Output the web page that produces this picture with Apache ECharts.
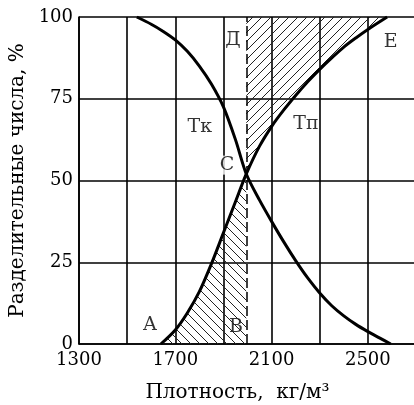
<!DOCTYPE html>
<html>
<head>
<meta charset="utf-8">
<script src="https://cdn.jsdelivr.net/npm/echarts@6/dist/echarts.min.js"></script>
<style>
  html, body { margin: 0; padding: 0; background: #fff; }
  #main { width: 414px; height: 405px; }
</style>
</head>
<body>
<div id="main"></div>
<script>
// Тк curve (separation number vs density)
var tkDensity = [1540, 1600, 1650, 1700, 1750, 1800, 1850, 1900, 1950, 1995, 2050, 2100, 2150, 2200, 2250, 2300, 2350, 2400, 2450, 2500, 2550, 2595];
var tkValue   = [100, 97.8, 95.6, 93, 89.5, 85, 79.5, 72.5, 62.5, 52, 44, 37.5, 31.3, 25.5, 20.2, 15.6, 11.7, 8.6, 6, 3.8, 1.8, 0];

// Тп curve
var tpDensity = [1640, 1700, 1750, 1800, 1850, 1900, 1950, 1995, 2050, 2100, 2150, 2200, 2250, 2300, 2350, 2400, 2450, 2500, 2580];
var tpValue   = [0, 4.3, 9.5, 16, 24.5, 34, 43.5, 52, 60.5, 66.5, 71.5, 76, 80.2, 84, 87.5, 90.8, 93.6, 96.2, 100];

// boundary density (dashed line Д-В)
var cutDensity = 1995;

var yTicks = [0, 25, 50, 75, 100];
var xTickLabels = [1300, 1700, 2100, 2500];

// point labels
var labelNames   = ['Тк', 'Тп', 'С', 'Д', 'Е', 'А', 'В'];
var labelDensity = [1802, 2243, 1915, 1940, 2595, 1595, 1952];
var labelValue   = [66.4, 67.3, 54.7, 93, 92.4, 5.8, 5.2];

function zip(xs, ys) {
  return xs.map(function (x, i) { return [x, ys[i]]; });
}

function hatch(dir) {
  var s = 9;
  var c = document.createElement('canvas');
  c.width = s; c.height = s;
  var ctx = c.getContext('2d');
  ctx.strokeStyle = '#222';
  ctx.lineWidth = 1;
  ctx.beginPath();
  if (dir === '/') {
    ctx.moveTo(-1, s + 1); ctx.lineTo(s + 1, -1);
    ctx.moveTo(-1, 1); ctx.lineTo(1, -1);
    ctx.moveTo(s - 1, s + 1); ctx.lineTo(s + 1, s - 1);
  } else {
    ctx.moveTo(-1, -1); ctx.lineTo(s + 1, s + 1);
    ctx.moveTo(-1, s - 1); ctx.lineTo(1, s + 1);
    ctx.moveTo(s - 1, -1); ctx.lineTo(s + 1, 1);
  }
  ctx.stroke();
  return c;
}

var tk = zip(tkDensity, tkValue);
var tp = zip(tpDensity, tpValue);
var tpLeft = tp.filter(function (p) { return p[0] <= cutDensity; });
var tpRight = tp.filter(function (p) { return p[0] >= cutDensity; });

var font = 'DejaVu Serif';
var chart = echarts.init(document.getElementById('main'));
var option = {
  animation: false,
  grid: { left: 79, top: 17, right: -2, bottom: 61, containLabel: false, outerBoundsMode: 'none' },
  xAxis: {
    type: 'value',
    min: 1300,
    max: 2700,
    interval: 200,
    name: 'Плотность,  кг/м³',
    nameLocation: 'middle',
    nameGap: 39,
    nameTextStyle: { fontFamily: font, fontSize: 20, color: '#000', padding: [0, 20, 0, 0] },
    axisLine: { show: true, lineStyle: { color: '#000', width: 1.6 } },
    axisTick: { show: false },
    axisLabel: {
      margin: 7,
      fontFamily: font,
      fontSize: 18,
      color: '#000',
      formatter: function (v) { return xTickLabels.indexOf(v) >= 0 ? String(v) : ''; }
    },
    splitLine: { show: true, lineStyle: { color: '#000', width: 1.6 } }
  },
  yAxis: {
    type: 'value',
    min: 0,
    max: 100,
    interval: 25,
    name: 'Разделительные числа, %',
    nameLocation: 'middle',
    nameRotate: 90,
    nameGap: 46,
    nameTextStyle: { fontFamily: font, fontSize: 20, color: '#000' },
    axisLine: { show: true, lineStyle: { color: '#000', width: 1.6 } },
    axisTick: { show: false },
    axisLabel: {
      margin: 6,
      fontFamily: font,
      fontSize: 18,
      color: '#000',
      formatter: function (v) { return yTicks.indexOf(v) >= 0 ? String(v) : ''; }
    },
    splitLine: { show: true, lineStyle: { color: '#000', width: 1.6 } }
  },
  series: [
    {
      type: 'line',
      data: tpLeft,
      symbol: 'none',
      smooth: 0.3,
      lineStyle: { width: 0 },
      areaStyle: { origin: 'start', opacity: 1, color: { image: hatch('\\'), repeat: 'repeat' } },
      markLine: {
        silent: true,
        symbol: 'none',
        label: { show: false },
        lineStyle: { color: '#000', width: 1.5, type: [10, 4] },
        data: [{ xAxis: cutDensity }]
      }
    },
    {
      type: 'line',
      data: tpRight,
      symbol: 'none',
      smooth: 0.3,
      lineStyle: { width: 0 },
      areaStyle: { origin: 'end', opacity: 1, color: { image: hatch('/'), repeat: 'repeat' } }
    },
    {
      type: 'line',
      data: tk,
      symbol: 'none',
      smooth: 0.3,
      lineStyle: { color: '#000', width: 3 }
    },
    {
      type: 'line',
      data: tp,
      symbol: 'none',
      smooth: 0.3,
      lineStyle: { color: '#000', width: 3 }
    },
    {
      type: 'scatter',
      symbolSize: 1,
      itemStyle: { color: 'rgba(0,0,0,0)' },
      data: labelNames.map(function (n, i) { return { name: n, value: [labelDensity[i], labelValue[i]] }; }),
      label: {
        show: true,
        position: 'inside',
        formatter: '{b}',
        fontFamily: font,
        fontSize: 19,
        color: '#000',
        backgroundColor: '#fff'
      }
    }
  ]
};
chart.setOption(option);
</script>
</body>
</html>
